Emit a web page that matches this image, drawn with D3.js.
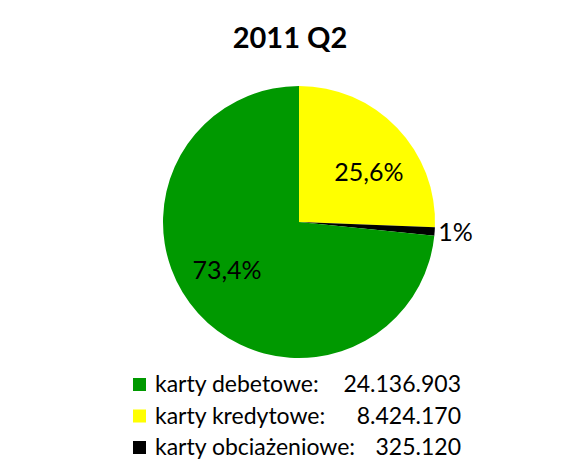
<!DOCTYPE html>
<html>
<head>
<meta charset="utf-8">
<script src="https://cdn.jsdelivr.net/npm/d3@7"></script>
<style>
  body { margin: 0; background: #fff; }
  text { font-family: Lato, "Open Sans", sans-serif; }
</style>
</head>
<body>
<div id="chart"></div>
<script>
// Chart data
const categories = ["karty kredytowe", "karty obciażeniowe", "karty debetowe"];
const values = [8424170, 325120, 24136903];
const pctLabels = ["25,6%", "1%", "73,4%"];
const colors = ["#ffff00", "#000000", "#009900"];

// Legend order as in the picture
const legendOrder = [2, 0, 1];
const legendLabels = ["karty debetowe:", "karty kredytowe:", "karty obciażeniowe:"];
const legendValues = ["24.136.903", "8.424.170", "325.120"];

var width = 583, height = 466;
var cx = 299, cy = 222, radius = 136;

var svg = d3.select("#chart")
    .append("svg")
    .attr("width", width)
    .attr("height", height);

// Title
svg.append("text")
    .attr("x", 290)
    .attr("y", 48)
    .attr("text-anchor", "middle")
    .style("font-size", "29px")
    .style("font-weight", "bold")
    .text("2011 Q2");

var pie = d3.pie().sort(null).value(d => d);
var arcs = pie(values);

var arc = d3.arc().innerRadius(0).outerRadius(radius);

var g = svg.append("g")
    .attr("transform", "translate(" + cx + "," + cy + ")");

g.selectAll("path")
    .data(arcs)
    .join("path")
    .attr("d", arc)
    .attr("fill", (d, i) => colors[i]);

// Slice labels: big ones inside (slightly flattened placement), small one outside
function labelPos(d, i) {
    var a = (d.startAngle + d.endAngle) / 2;
    var rx = i === 1 ? 157 : 97;
    var ry = i === 1 ? 146 : 72;
    return [rx * Math.sin(a), -ry * Math.cos(a)];
}

g.selectAll("text.pct")
    .data(arcs)
    .join("text")
    .attr("class", "pct")
    .attr("transform", (d, i) => "translate(" + labelPos(d, i) + ")")
    .attr("text-anchor", "middle")
    .attr("dy", "0.35em")
    .style("font-size", "25px")
    .text((d, i) => pctLabels[i]);

// Legend
var legend = svg.append("g");
var rows = legend.selectAll("g")
    .data(legendOrder)
    .join("g")
    .attr("transform", (d, i) => "translate(0," + (392 + i * 31.5) + ")");

rows.append("rect")
    .attr("x", 133)
    .attr("y", -14)
    .attr("width", 13)
    .attr("height", 13)
    .attr("fill", d => colors[d]);

rows.append("text")
    .attr("x", 155)
    .style("font-size", "23px")
    .text((d, i) => legendLabels[i]);

rows.append("text")
    .attr("x", 461)
    .attr("text-anchor", "end")
    .style("font-size", "23px")
    .text((d, i) => legendValues[i]);
</script>
</body>
</html>
